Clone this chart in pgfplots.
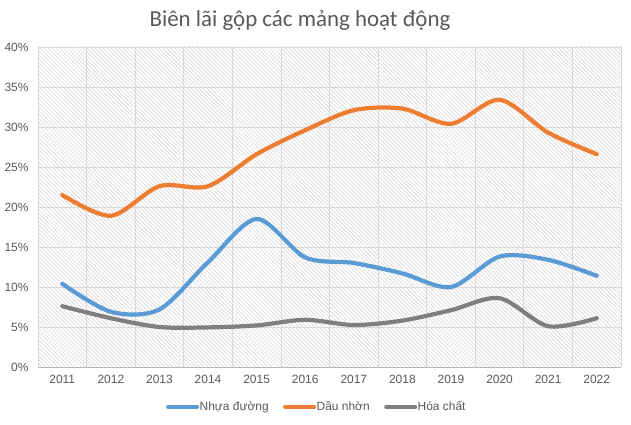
\documentclass[border=0pt]{standalone}
\usepackage{pgfplots}
\pgfplotsset{compat=1.18}
\usepackage{fontspec}
\setmainfont{Liberation Sans}
\newfontfamily\titlefont{Carlito}
\usetikzlibrary{patterns.meta}
\definecolor{cblue}{HTML}{5B9BD5}
\definecolor{corange}{HTML}{ED7D31}
\definecolor{cgray}{HTML}{7F7F7F}
\definecolor{txt}{HTML}{595959}
\definecolor{gridc}{HTML}{D9D9D9}
\definecolor{hatch}{HTML}{CFCFCF}
\begin{document}
\begin{tikzpicture}[x=1bp,y=1bp]
\path[use as bounding box] (0,0) rectangle (631,424);
\begin{axis}[
  at={(38bp,57bp)}, anchor=south west,
  scale only axis, width=583bp, height=320bp,
  xmin=-0.5, xmax=11.5, ymin=0, ymax=40,
  axis background/.style={pattern={Lines[angle=-45,distance=2.8bp,line width=0.5bp]}, pattern color=hatch},
  xtick={0,...,11},
  xticklabels={2011,2012,2013,2014,2015,2016,2017,2018,2019,2020,2021,2022},
  minor xtick={-0.5,0.5,...,11.5},
  ytick={0,5,...,40},
  yticklabel={\pgfmathprintnumber{\tick}\%},
  /pgf/number format/assume math mode=true,
  ymajorgrids, xminorgrids,
  grid style={gridc, line width=0.7bp},
  minor grid style={gridc, line width=0.7bp},
  axis x line*=bottom, axis y line*=left,
  y axis line style={draw=none},
  x axis line style={draw=gridc!85!black, line width=0.7bp},
  major tick length=0pt, minor tick length=0pt,
  ticklabel style={font=\fontsize{12}{14}\selectfont, text=txt},
  xticklabel style={yshift=-5bp},
  yticklabel style={xshift=-6bp},
  legend style={at={(0.477,-0.125)}, anchor=center, draw=none, fill=none,
    font=\fontsize{12}{14}\selectfont, text=txt, legend columns=-1,
    /tikz/every even column/.append style={column sep=14bp},
    nodes={inner sep=0.5bp},
    inner sep=0pt},
  legend image code/.code={\draw[#1, line width=4bp] (0bp,0bp) -- (29bp,0bp);},
  every axis plot/.append style={line width=4.2bp, smooth, tension=0.5, mark=none, line cap=round},
  clip=false,
]
\addplot[cblue] coordinates {(0,10.4)(1,6.9)(2,7.2)(3,13.1)(4,18.5)(5,13.7)(6,13.0)(7,11.7)(8,10.0)(9,13.8)(10,13.4)(11,11.4)};
\addlegendentry{Nhựa đường}
\addplot[corange] coordinates {(0,21.5)(1,18.9)(2,22.6)(3,22.6)(4,26.6)(5,29.6)(6,32.1)(7,32.3)(8,30.4)(9,33.4)(10,29.3)(11,26.6)};
\addlegendentry{Dầu nhờn}
\addplot[cgray] coordinates {(0,7.6)(1,6.1)(2,5.0)(3,4.95)(4,5.2)(5,5.9)(6,5.25)(7,5.8)(8,7.1)(9,8.6)(10,5.1)(11,6.1)};
\addlegendentry{Hóa chất}
\end{axis}
\node[text=txt, font=\titlefont\fontsize{23}{26}\selectfont] at (300,403) {Biên lãi gộp các mảng hoạt động};
\end{tikzpicture}
\end{document}
